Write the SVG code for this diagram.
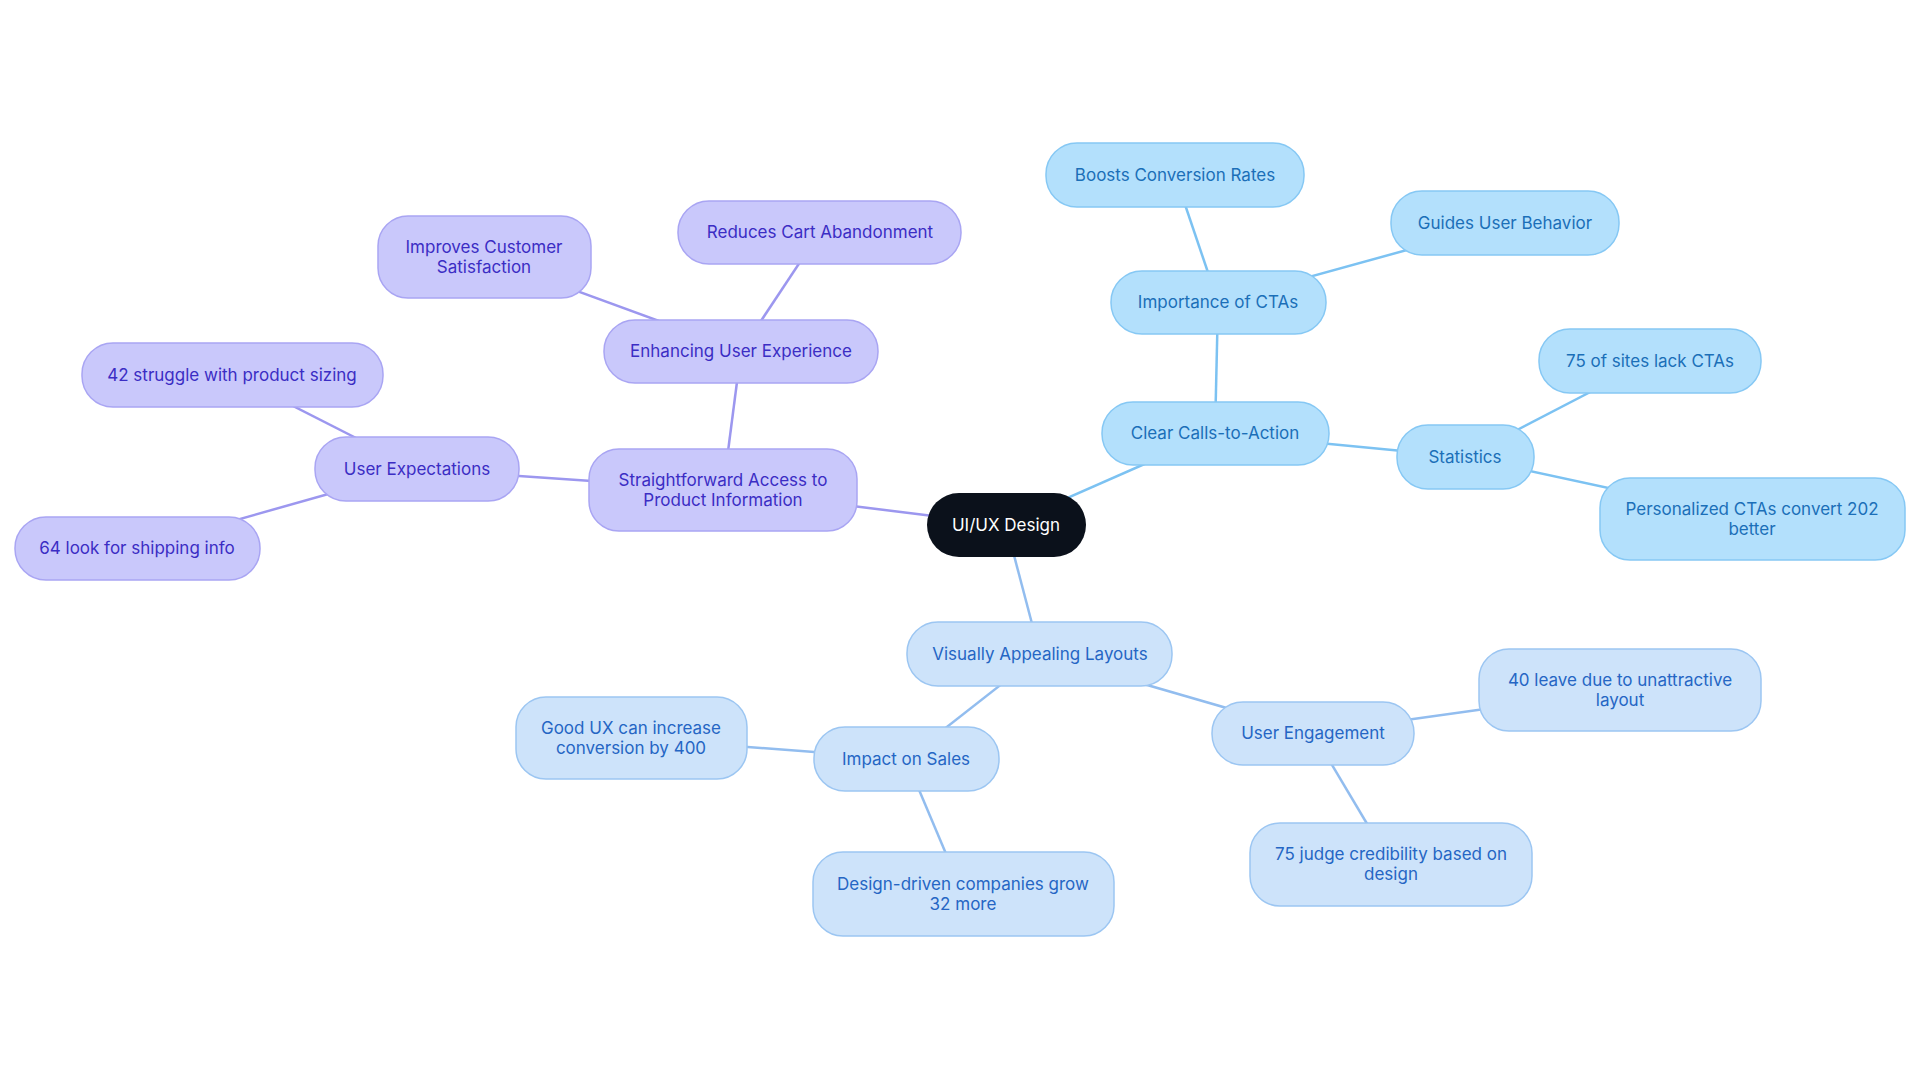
<svg xmlns="http://www.w3.org/2000/svg" width="1920" height="1083" viewBox="0 0 1920 1083">
<style>
text{font-family:Inter,"Liberation Sans",sans-serif;font-size:17px;text-anchor:middle;dominant-baseline:central}
.p rect{fill:#c9c8fb;stroke:#a9a5f3;stroke-width:1.5}.p text{fill:#3b2dc4}
.b rect{fill:#b3e0fc;stroke:#86c8f4;stroke-width:1.5}.b text{fill:#1b6fb8}
.l rect{fill:#cde3fa;stroke:#9cc6f2;stroke-width:1.5}.l text{fill:#2566c4}
.ep{stroke:#9c97ef;stroke-width:2.5}.eb{stroke:#7cc2f2;stroke-width:2.5}.el{stroke:#92bdef;stroke-width:2.5}
</style>
<rect width="1920" height="1083" fill="#fff"/>
<g id="connectors">
<line class="ep" x1="1006" y1="525" x2="723" y2="490"/>
<line class="ep" x1="723" y1="490" x2="741" y2="351"/>
<line class="ep" x1="741" y1="351" x2="820" y2="232"/>
<line class="ep" x1="741" y1="351" x2="484" y2="257"/>
<line class="ep" x1="723" y1="490" x2="417" y2="469"/>
<line class="ep" x1="417" y1="469" x2="232" y2="375"/>
<line class="ep" x1="417" y1="469" x2="137" y2="548"/>
<line class="eb" x1="1006" y1="525" x2="1215" y2="433"/>
<line class="eb" x1="1215" y1="433" x2="1218" y2="302"/>
<line class="eb" x1="1218" y1="302" x2="1175" y2="175"/>
<line class="eb" x1="1218" y1="302" x2="1505" y2="223"/>
<line class="eb" x1="1215" y1="433" x2="1465" y2="457"/>
<line class="eb" x1="1465" y1="457" x2="1650" y2="361"/>
<line class="eb" x1="1465" y1="457" x2="1752" y2="519"/>
<line class="el" x1="1006" y1="525" x2="1040" y2="654"/>
<line class="el" x1="1040" y1="654" x2="906" y2="759"/>
<line class="el" x1="906" y1="759" x2="631" y2="738"/>
<line class="el" x1="906" y1="759" x2="963" y2="894"/>
<line class="el" x1="1040" y1="654" x2="1313" y2="733"/>
<line class="el" x1="1313" y1="733" x2="1620" y2="690"/>
<line class="el" x1="1313" y1="733" x2="1391" y2="864"/>
</g>
<g id="center"><rect x="927" y="493" width="159" height="64" rx="32" fill="#0b111b"/><text x="1006" y="525" fill="#fff">UI/UX Design</text></g>
<g id="n1" class="p"><rect x="589" y="449" width="268" height="82" rx="30"/><text x="723" y="480">Straightforward Access to</text><text x="723" y="500">Product Information</text></g>
<g id="n2" class="p"><rect x="604" y="320" width="274" height="63" rx="31"/><text x="741" y="351">Enhancing User Experience</text></g>
<g id="n3" class="p"><rect x="678" y="201" width="283" height="63" rx="31"/><text x="820" y="232">Reduces Cart Abandonment</text></g>
<g id="n4" class="p"><rect x="378" y="216" width="213" height="82" rx="30"/><text x="484" y="247">Improves Customer</text><text x="484" y="267">Satisfaction</text></g>
<g id="n5" class="p"><rect x="315" y="437" width="204" height="64" rx="31"/><text x="417" y="469">User Expectations</text></g>
<g id="n6" class="p"><rect x="82" y="343" width="301" height="64" rx="31"/><text x="232" y="375">42 struggle with product sizing</text></g>
<g id="n7" class="p"><rect x="15" y="517" width="245" height="63" rx="31"/><text x="137" y="548">64 look for shipping info</text></g>
<g id="n8" class="b"><rect x="1102" y="402" width="227" height="63" rx="31"/><text x="1215" y="433">Clear Calls-to-Action</text></g>
<g id="n9" class="b"><rect x="1111" y="271" width="215" height="63" rx="31"/><text x="1218" y="302">Importance of CTAs</text></g>
<g id="n10" class="b"><rect x="1046" y="143" width="258" height="64" rx="31"/><text x="1175" y="175">Boosts Conversion Rates</text></g>
<g id="n11" class="b"><rect x="1391" y="191" width="228" height="64" rx="31"/><text x="1505" y="223">Guides User Behavior</text></g>
<g id="n12" class="b"><rect x="1397" y="425" width="137" height="64" rx="31"/><text x="1465" y="457">Statistics</text></g>
<g id="n13" class="b"><rect x="1539" y="329" width="222" height="64" rx="31"/><text x="1650" y="361">75 of sites lack CTAs</text></g>
<g id="n14" class="b"><rect x="1600" y="478" width="305" height="82" rx="30"/><text x="1752" y="509">Personalized CTAs convert 202</text><text x="1752" y="529">better</text></g>
<g id="n15" class="l"><rect x="907" y="622" width="265" height="64" rx="31"/><text x="1040" y="654">Visually Appealing Layouts</text></g>
<g id="n16" class="l"><rect x="814" y="727" width="185" height="64" rx="31"/><text x="906" y="759">Impact on Sales</text></g>
<g id="n17" class="l"><rect x="516" y="697" width="231" height="82" rx="30"/><text x="631" y="728">Good UX can increase</text><text x="631" y="748">conversion by 400</text></g>
<g id="n18" class="l"><rect x="813" y="852" width="301" height="84" rx="30"/><text x="963" y="884">Design-driven companies grow</text><text x="963" y="904">32 more</text></g>
<g id="n19" class="l"><rect x="1212" y="702" width="202" height="63" rx="31"/><text x="1313" y="733">User Engagement</text></g>
<g id="n20" class="l"><rect x="1479" y="649" width="282" height="82" rx="30"/><text x="1620" y="680">40 leave due to unattractive</text><text x="1620" y="700">layout</text></g>
<g id="n21" class="l"><rect x="1250" y="823" width="282" height="83" rx="30"/><text x="1391" y="854">75 judge credibility based on</text><text x="1391" y="874">design</text></g>
</svg>
